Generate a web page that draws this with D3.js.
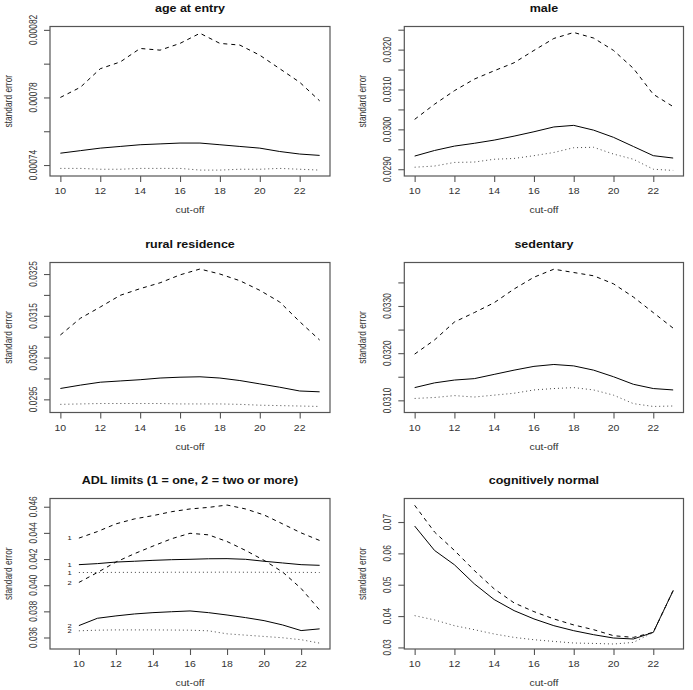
<!DOCTYPE html>
<html>
<head>
<meta charset="utf-8">
<script src="https://cdn.jsdelivr.net/npm/d3@7"></script>
<style>
  html, body { margin: 0; padding: 0; background: #fff; }
  svg { display: block; }
  text { font-family: "Liberation Sans", Arial, Helvetica, sans-serif; }
</style>
</head>
<body>
<svg id="chart" width="693" height="690"></svg>
<script>
// ---------------- DATA ----------------
const cutoffs = [10, 11, 12, 13, 14, 15, 16, 17, 18, 19, 20, 21, 22, 23];

// age at entry
const ageDashed = [0.000780, 0.000786, 0.000797, 0.000801, 0.000809, 0.000808, 0.000812, 0.000818, 0.000812, 0.000811, 0.000805, 0.000797, 0.000789, 0.000778];
const ageSolid  = [0.000747, 0.0007485, 0.000750, 0.000751, 0.000752, 0.0007525, 0.000753, 0.000753, 0.000752, 0.000751, 0.000750, 0.000748, 0.0007465, 0.0007457];
const ageDotted = [0.000738, 0.000738, 0.0007375, 0.0007375, 0.000738, 0.000738, 0.000738, 0.000737, 0.000737, 0.0007375, 0.0007375, 0.000738, 0.0007375, 0.000737];

// male
const maleDashed = [0.03025, 0.03063, 0.03097, 0.03126, 0.03147, 0.03167, 0.03198, 0.03228, 0.03243, 0.03229, 0.03198, 0.03153, 0.03088, 0.03057];
const maleSolid  = [0.02933, 0.02947, 0.02958, 0.02965, 0.02973, 0.02983, 0.02994, 0.03006, 0.03010, 0.02998, 0.02980, 0.02957, 0.02934, 0.02928];
const maleDotted = [0.02905, 0.02908, 0.02917, 0.02918, 0.02925, 0.02927, 0.02934, 0.02942, 0.02954, 0.02955, 0.02938, 0.02925, 0.02900, 0.02897];

// rural residence
const ruralDashed = [0.03104, 0.03144, 0.03171, 0.03199, 0.03215, 0.03229, 0.03248, 0.03262, 0.03250, 0.03234, 0.03211, 0.03183, 0.03136, 0.03092];
const ruralSolid  = [0.02976, 0.02984, 0.02991, 0.02994, 0.02997, 0.03001, 0.03003, 0.03004, 0.03001, 0.02995, 0.02987, 0.02979, 0.02970, 0.02968];
const ruralDotted = [0.02938, 0.02939, 0.02940, 0.02940, 0.02940, 0.02940, 0.02939, 0.02939, 0.02939, 0.02938, 0.02936, 0.02935, 0.02934, 0.02933];

// sedentary
const sedDashed = [0.03198, 0.03228, 0.03266, 0.03286, 0.03307, 0.03336, 0.03361, 0.03378, 0.03371, 0.03364, 0.03347, 0.03319, 0.03286, 0.03253];
const sedSolid  = [0.03127, 0.03137, 0.03143, 0.03146, 0.03155, 0.03164, 0.03172, 0.03176, 0.03173, 0.03164, 0.03150, 0.03134, 0.03125, 0.03122];
const sedDotted = [0.03104, 0.03106, 0.03110, 0.03107, 0.03111, 0.03115, 0.03122, 0.03125, 0.03127, 0.03122, 0.03111, 0.03093, 0.03087, 0.03088];

// ADL limits (1 = one, 2 = two or more)
const adl1Dashed = [0.04360, 0.04410, 0.04469, 0.04507, 0.04532, 0.04562, 0.04583, 0.04595, 0.04613, 0.04583, 0.04537, 0.04469, 0.04400, 0.04342];
const adl2Dashed = [0.04021, 0.04097, 0.04177, 0.04241, 0.04299, 0.04355, 0.04397, 0.04385, 0.04334, 0.04266, 0.04190, 0.04101, 0.03975, 0.03810];
const adl1Solid  = [0.04157, 0.04165, 0.04177, 0.04183, 0.04190, 0.04195, 0.04198, 0.04202, 0.04203, 0.04198, 0.04183, 0.04170, 0.04157, 0.04152];
const adl1Dotted = [0.04097, 0.04097, 0.04098, 0.04098, 0.04098, 0.04099, 0.04099, 0.04099, 0.04100, 0.04099, 0.04099, 0.04098, 0.04098, 0.04097];
const adl2Solid  = [0.03691, 0.03747, 0.03765, 0.03780, 0.03790, 0.03797, 0.03803, 0.03790, 0.03772, 0.03752, 0.03729, 0.03696, 0.03653, 0.03666];
const adl2Dotted = [0.03651, 0.03656, 0.03658, 0.03658, 0.03658, 0.03657, 0.03656, 0.03651, 0.03628, 0.03618, 0.03608, 0.03598, 0.03583, 0.03557];
const adlLabels  = ["1", "2", "1", "1", "2", "2"];

// cognitively normal
const cogDashed = [0.07534, 0.06680, 0.06094, 0.05454, 0.04869, 0.04421, 0.04142, 0.03909, 0.03717, 0.03566, 0.03374, 0.03320, 0.03480, 0.04814];
const cogSolid  = [0.06872, 0.06094, 0.05637, 0.05029, 0.04526, 0.04174, 0.03909, 0.03694, 0.03534, 0.03406, 0.03300, 0.03269, 0.03480, 0.04814];
const cogDotted = [0.04014, 0.03877, 0.03694, 0.03566, 0.03429, 0.03320, 0.03246, 0.03192, 0.03141, 0.03128, 0.03109, 0.03160, 0.03480, 0.04814];

// titles & axes
const titles = ["age at entry", "male", "rural residence", "sedentary", "ADL limits (1 = one, 2 = two or more)", "cognitively normal"];
const xTicks = [10, 12, 14, 16, 18, 20, 22];
const xLabel = "cut-off";
const yLabel = "standard error";

const ageTicks   = [0.00074, 0.00076, 0.00078, 0.00080, 0.00082];
const ageTickLab = ["0.00074", "", "0.00078", "", "0.00082"];
const maleTicks   = [0.0290, 0.0295, 0.0300, 0.0305, 0.0310, 0.0315, 0.0320, 0.0325];
const maleTickLab = ["0.0290", "", "0.0300", "", "0.0310", "", "0.0320", ""];
const ruralTicks   = [0.0295, 0.0300, 0.0305, 0.0310, 0.0315, 0.0320, 0.0325];
const ruralTickLab = ["0.0295", "", "0.0305", "", "0.0315", "", "0.0325"];
const sedTicks   = [0.0310, 0.0315, 0.0320, 0.0325, 0.0330, 0.0335];
const sedTickLab = ["0.0310", "", "0.0320", "", "0.0330", ""];
const adlTicks   = [0.036, 0.038, 0.040, 0.042, 0.044, 0.046];
const adlTickLab = ["0.036", "0.038", "0.040", "0.042", "0.044", "0.046"];
const cogTicks   = [0.03, 0.04, 0.05, 0.06, 0.07];
const cogTickLab = ["0.03", "0.04", "0.05", "0.06", "0.07"];

// axis ranges
const ageRange   = [0.0007335, 0.000822];
const maleRange  = [0.02883, 0.03258];
const ruralRange = [0.029185, 0.032776];
const sedRange   = [0.030742, 0.033922];
const adlRange   = [0.03512, 0.04663];
const cogRange   = [0.0295, 0.0775];
const xRangeStd  = [9.48, 23.52];
const xRangeAdl  = [8.44, 23.56];
const adlLabelX  = 9.5;

// ---------------- LAYOUT ----------------
const svg = d3.select("#chart");
const SY = 0.8;              // vertical squash of glyphs seen in the reference
const colX = [[50, 330], [404.3, 683.5]];
const rowY = [[26.5, 176], [262.5, 412.5], [498.5, 649]];
const boxColor = "#555";
const txtColor = "#333";

const dashOf = { dashed: "4,4", solid: null, dotted: "1,3" };

const panels = [
  { t: 0, col: 0, row: 0, xd: xRangeStd, yd: ageRange, ticks: ageTicks, labs: ageTickLab,
    series: [[ageDashed, "dashed"], [ageSolid, "solid"], [ageDotted, "dotted"]] },
  { t: 1, col: 1, row: 0, xd: xRangeStd, yd: maleRange, ticks: maleTicks, labs: maleTickLab,
    series: [[maleDashed, "dashed"], [maleSolid, "solid"], [maleDotted, "dotted"]] },
  { t: 2, col: 0, row: 1, xd: xRangeStd, yd: ruralRange, ticks: ruralTicks, labs: ruralTickLab,
    series: [[ruralDashed, "dashed"], [ruralSolid, "solid"], [ruralDotted, "dotted"]] },
  { t: 3, col: 1, row: 1, xd: xRangeStd, yd: sedRange, ticks: sedTicks, labs: sedTickLab,
    series: [[sedDashed, "dashed"], [sedSolid, "solid"], [sedDotted, "dotted"]] },
  { t: 4, col: 0, row: 2, xd: xRangeAdl, yd: adlRange, ticks: adlTicks, labs: adlTickLab,
    series: [[adl1Dashed, "dashed"], [adl2Dashed, "dashed"], [adl1Solid, "solid"], [adl1Dotted, "dotted"], [adl2Solid, "solid"], [adl2Dotted, "dotted"]],
    seriesLabels: adlLabels },
  { t: 5, col: 1, row: 2, xd: xRangeStd, yd: cogRange, ticks: cogTicks, labs: cogTickLab,
    series: [[cogDashed, "dashed"], [cogSolid, "solid"], [cogDotted, "dotted"]] }
];

function sqText(g, x, y, str, opts) {
  const o = Object.assign({ size: 10.5, anchor: "middle", rotate: 0, weight: "normal", fill: txtColor, sy: SY }, opts || {});
  g.append("text")
    .attr("transform", `translate(${x},${y}) scale(1,${o.sy}) rotate(${o.rotate})`)
    .attr("text-anchor", o.anchor)
    .attr("dominant-baseline", "central")
    .attr("font-size", o.size)
    .attr("font-weight", o.weight)
    .attr("fill", o.fill)
    .text(str);
}

panels.forEach(p => {
  const [x0, x1] = colX[p.col];
  const [y0, y1] = rowY[p.row];
  const x = d3.scaleLinear().domain(p.xd).range([x0, x1]);
  const y = d3.scaleLinear().domain(p.yd).range([y1, y0]);
  const g = svg.append("g");

  // series
  const line = d3.line().x((d, i) => x(cutoffs[i])).y(d => y(d));
  p.series.forEach(([vals, kind]) => {
    const path = g.append("path")
      .datum(vals)
      .attr("d", line)
      .attr("fill", "none")
      .attr("stroke", kind === "dotted" ? "#444" : "#000")
      .attr("stroke-width", 1);
    if (dashOf[kind]) path.attr("stroke-dasharray", dashOf[kind]);
  });

  // series labels (ADL panel)
  if (p.seriesLabels) {
    p.series.forEach(([vals], i) => {
      sqText(g, x(adlLabelX), y(vals[0]), p.seriesLabels[i], { size: 7.5, fill: "#222" });
    });
  }

  // box
  g.append("rect")
    .attr("x", x0).attr("y", y0)
    .attr("width", x1 - x0).attr("height", y1 - y0)
    .attr("fill", "none").attr("stroke", boxColor).attr("stroke-width", 1.2);

  // x axis
  const xa = g.append("g").attr("transform", `translate(0,${y1})`)
    .call(d3.axisBottom(x).tickValues(xTicks).tickSize(6).tickFormat(""));
  xa.select(".domain").remove();
  xa.selectAll("line").attr("stroke", boxColor).attr("stroke-width", 1.1);
  xTicks.forEach(v => sqText(g, x(v), y1 + 15, String(v)));

  // y axis
  const ya = g.append("g").attr("transform", `translate(${x0},0)`)
    .call(d3.axisLeft(y).tickValues(p.ticks).tickSize(6).tickFormat(""));
  ya.select(".domain").remove();
  ya.selectAll("line").attr("stroke", boxColor).attr("stroke-width", 1.1);
  p.ticks.forEach((v, i) => {
    if (p.labs[i]) sqText(g, x0 - 17, y(v), p.labs[i], { rotate: -90 });
  });

  // labels
  sqText(g, (x0 + x1) / 2, y1 + 34, xLabel, { size: 10.5 });
  sqText(g, x0 - 42, (y0 + y1) / 2, yLabel, { size: 10.5, rotate: -90 });
  sqText(g, (x0 + x1) / 2, y0 - 18.5, titles[p.t], { size: 12.5, weight: "bold", fill: "#111", sy: 0.85 });
});
</script>
</body>
</html>
